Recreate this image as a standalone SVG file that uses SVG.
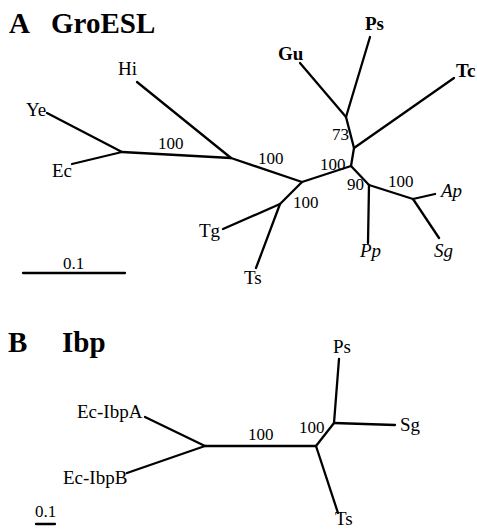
<svg xmlns="http://www.w3.org/2000/svg" width="477" height="530" viewBox="0 0 477 530">
<style>
text{font-family:"Liberation Serif","Times New Roman",serif;fill:#000}
.t{font-size:29px;font-weight:bold}
.l{font-size:19px}
.b{font-weight:bold}
.i{font-style:italic}
.n{font-size:17px}
.e{stroke:#000;stroke-width:2.3;fill:none;stroke-linecap:round;stroke-linejoin:round}
</style>
<rect width="477" height="530" fill="#fff"/>
<g id="titleA"><text class="t" x="9" y="33">A</text><text class="t" x="51" y="33">GroESL</text></g>
<g id="connectorsA">
<polyline class="e" points="47,113 122,152 72,164"/>
<line class="e" x1="122" y1="152" x2="231" y2="158"/>
<line class="e" x1="137" y1="82" x2="231" y2="158"/>
<line class="e" x1="231" y1="158" x2="302" y2="182"/>
<line class="e" x1="302" y1="182" x2="351" y2="166"/>
<line class="e" x1="302" y1="182" x2="280" y2="204"/>
<line class="e" x1="280" y1="204" x2="223" y2="229"/>
<line class="e" x1="280" y1="204" x2="256" y2="268"/>
<polyline class="e" points="351,166 354,148 346,117 300,63"/>
<line class="e" x1="346" y1="117" x2="370" y2="37"/>
<line class="e" x1="354" y1="148" x2="454" y2="78"/>
<line class="e" x1="351" y1="166" x2="369" y2="185"/>
<line class="e" x1="369" y1="185" x2="368" y2="243"/>
<line class="e" x1="369" y1="185" x2="413" y2="199"/>
<line class="e" x1="413" y1="199" x2="435" y2="194"/>
<line class="e" x1="413" y1="199" x2="439" y2="238"/>
<line class="e" x1="23" y1="273" x2="125" y2="273"/>
</g>
<g id="Hi"><text class="l" x="118" y="75">Hi</text></g>
<g id="Ye"><text class="l" x="26" y="116">Ye</text></g>
<g id="Ec"><text class="l" x="52" y="177">Ec</text></g>
<g id="Tg"><text class="l" x="199" y="237">Tg</text></g>
<g id="Ts"><text class="l" x="244" y="284">Ts</text></g>
<g id="Gu"><text class="l b" x="278" y="60">Gu</text></g>
<g id="Ps"><text class="l b" x="365" y="30">Ps</text></g>
<g id="Tc"><text class="l b" x="456" y="77">Tc</text></g>
<g id="Pp"><text class="l i" x="360" y="257">Pp</text></g>
<g id="Ap"><text class="l i" x="441" y="197">Ap</text></g>
<g id="Sg"><text class="l i" x="434" y="257">Sg</text></g>
<g id="labelsA">
<text class="n" x="158" y="149">100</text>
<text class="n" x="258" y="164">100</text>
<text class="n" x="320" y="170">100</text>
<text class="n" x="293" y="208">100</text>
<text class="n" x="332" y="140">73</text>
<text class="n" x="347" y="190">90</text>
<text class="n" x="388" y="187">100</text>
<text class="n" x="63" y="269">0.1</text>
</g>
<g id="titleB"><text class="t" x="8" y="352">B</text><text class="t" x="62" y="352">Ibp</text></g>
<g id="connectorsB">
<line class="e" x1="339" y1="359" x2="334" y2="423"/>
<line class="e" x1="334" y1="423" x2="395" y2="425"/>
<line class="e" x1="334" y1="423" x2="316" y2="446"/>
<line class="e" x1="316" y1="446" x2="338" y2="513"/>
<line class="e" x1="316" y1="446" x2="205" y2="446"/>
<line class="e" x1="205" y1="446" x2="145" y2="417"/>
<line class="e" x1="205" y1="446" x2="127" y2="473"/>
<line class="e" x1="36" y1="524" x2="55" y2="524"/>
</g>
<g id="B-Ps"><text class="l" x="333" y="353">Ps</text></g>
<g id="B-Sg"><text class="l" x="400" y="431">Sg</text></g>
<g id="B-Ts"><text class="l" x="335" y="525">Ts</text></g>
<g id="Ec-IbpA"><text class="l" x="77" y="418">Ec-IbpA</text></g>
<g id="Ec-IbpB"><text class="l" x="63" y="484">Ec-IbpB</text></g>
<g id="labelsB">
<text class="n" x="299" y="433">100</text>
<text class="n" x="248" y="440">100</text>
<text class="n" x="35" y="517">0.1</text>
</g>
</svg>
